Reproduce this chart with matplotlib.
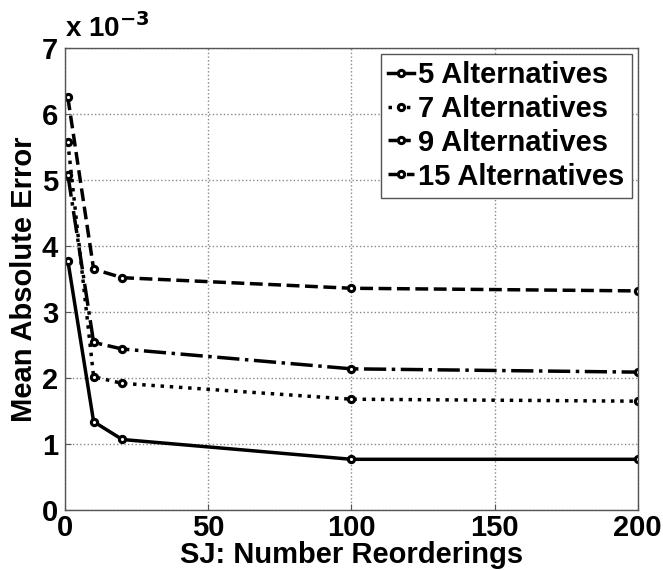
import numpy as np
import matplotlib
matplotlib.use("Agg")
import matplotlib.pyplot as plt
from matplotlib import rcParams

rcParams['font.family'] = 'Liberation Sans'
rcParams['font.weight'] = 'bold'
rcParams['font.size'] = 20
rcParams['axes.edgecolor'] = '#555555'

# data (values in units of 1e-3)
reorderings = [1, 10, 20, 100, 200]
alt5 = [3.78, 1.34, 1.07, 0.77, 0.77]
alt7 = [5.57, 2.02, 1.92, 1.68, 1.65]
alt9 = [5.08, 2.54, 2.44, 2.14, 2.09]
alt15 = [6.25, 3.65, 3.52, 3.36, 3.32]
names = ["5 Alternatives", "7 Alternatives", "9 Alternatives", "15 Alternatives"]
styles = ['-', ':', '-.', '--']

fig = plt.figure(figsize=(6.63, 5.70), dpi=100)
ax = fig.add_axes([0.098, 0.105, 0.864, 0.811])

for vals, ls, name in zip([alt5, alt7, alt9, alt15], styles, names):
    ax.plot(reorderings, np.array(vals) * 1e-3, linestyle=ls, color='black',
            linewidth=2.5, marker='o', markersize=4.5, markerfacecolor='white',
            markeredgewidth=2.2, label=name)

ax.set_xlim(0, 200)
ax.set_ylim(0, 7e-3)
ax.set_xticks([0, 50, 100, 150, 200])
ax.set_yticks(np.arange(0, 8) * 1e-3)
ax.set_yticklabels([str(i) for i in range(8)])
ax.tick_params(direction='in', length=4, labelsize=21, color='#555555')
ax.tick_params(axis='x', pad=3)
ax.tick_params(axis='y', pad=5)
ax.grid(True, linestyle=':', color='#888888', linewidth=1)
for s in ax.spines.values():
    s.set_linewidth(1)

fig.text(0.098, 0.925, r'x 10$^{\mathbf{-3}}$', fontsize=20, fontweight='bold', va='bottom')

ax.set_xlabel("SJ: Number Reorderings", fontsize=21, fontweight='bold', labelpad=-1)
ax.set_ylabel("Mean Absolute Error", fontsize=21, fontweight='bold', labelpad=3)

leg = ax.legend(loc='upper right', handlelength=0.9, handletextpad=0.15,
                labelspacing=0.2, borderpad=0.25, borderaxespad=0.2, fancybox=False,
                framealpha=1, edgecolor='#555555', prop={'weight': 'bold', 'size': 21})
leg.get_frame().set_linewidth(1)

fig.savefig("out.png", dpi=100)
